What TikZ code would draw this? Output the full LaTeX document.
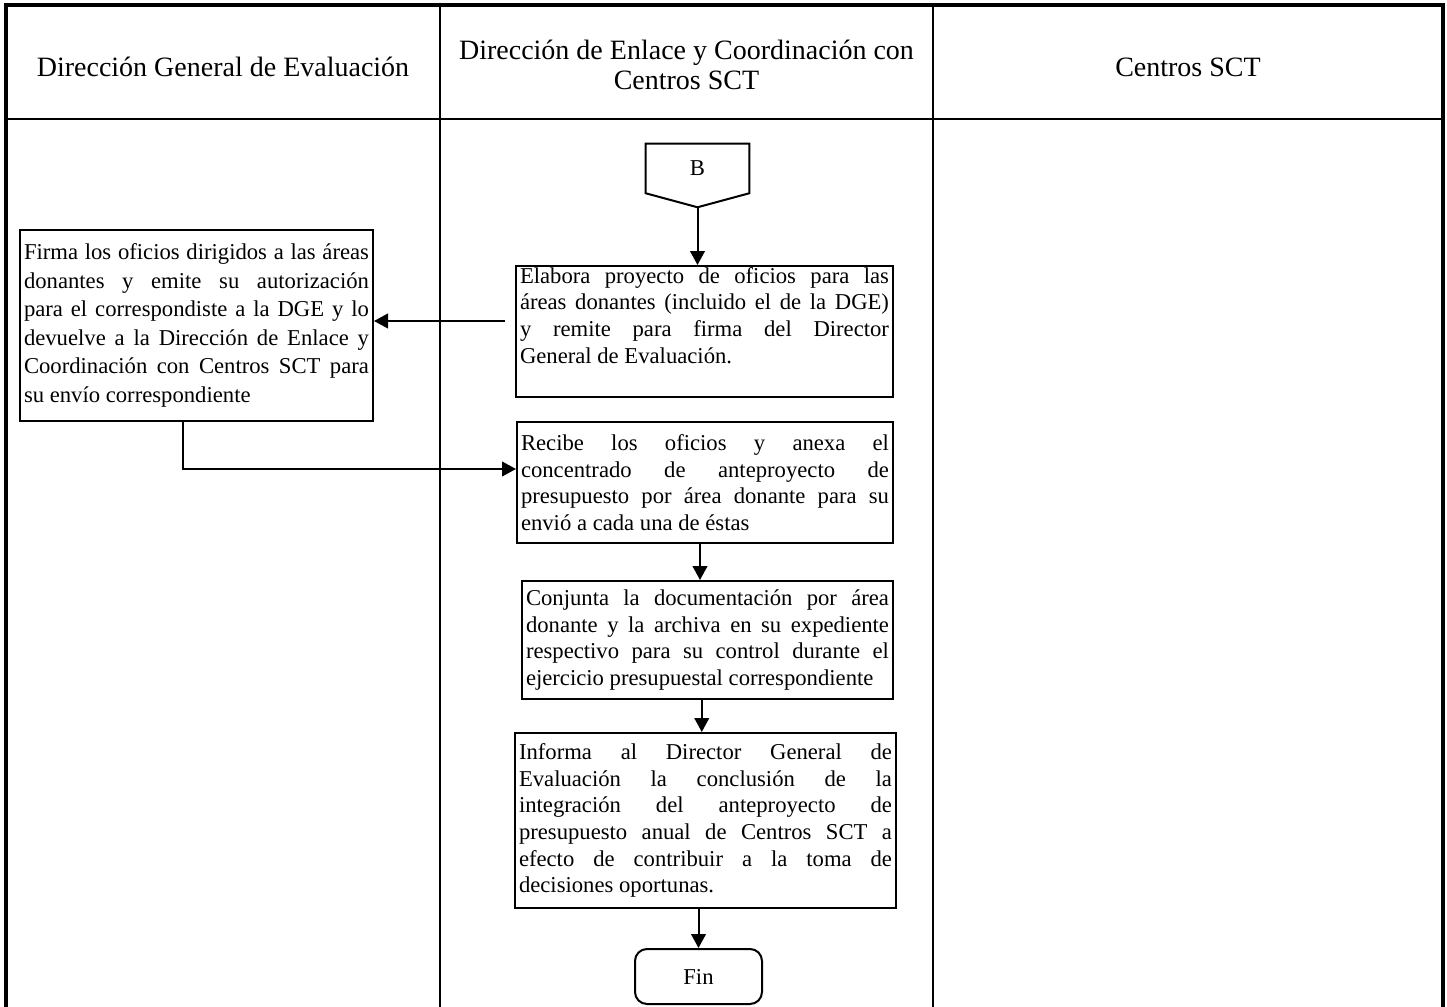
\documentclass[tikz,border=0pt]{standalone}
\usepackage{fontspec}
\setmainfont{Liberation Serif}
\usetikzlibrary{arrows.meta,calc}
\newcommand\bxt[4]{\parbox[c][#2][#1]{#3}{\fontsize{17}{20}\selectfont\hyphenpenalty=10000\exhyphenpenalty=10000\tolerance=10000\hbadness=10000 #4}}
\begin{document}
\begin{tikzpicture}[x=0.75pt,y=-0.75pt,
  >={Triangle[length=10.5pt,width=11pt]},
  arr/.style={->,line width=1.5pt},
  procbox/.style={draw,line width=1.5pt,inner xsep=3pt,inner ysep=0pt,fill=white},
  hdr/.style={font=\fontsize{21}{22.5}\selectfont,align=center},
  txt/.style={font=\fontsize{17}{20}\selectfont}]
\useasboundingbox (0,0) rectangle (1447,1007);
% table
\draw[line width=2.4pt] (6,1007) -- (6,5) -- (1443,5) -- (1443,1007);
\draw[line width=2.2pt] (6,119) -- (1443,119);
\draw[line width=1.5pt] (440,5) -- (440,1007);
\draw[line width=1.5pt] (933,5) -- (933,1007);
% headers
\node[hdr] (h1) at (223,67) {Dirección General de Evaluación};
\node[hdr] (h2) at (686.5,65) {Dirección de Enlace y Coordinación con\\Centros SCT};
\node[hdr] (h3) at (1188,67) {Centros SCT};
% off-page connector
\node[txt,minimum width=77.25pt,minimum height=36.75pt,inner sep=0pt] (B) at (697.5,168.5) {B};
\draw[line width=1.5pt] (B.north west) -- (B.north east) -- (B.south east) -- ([yshift=-10.5pt]B.south) coordinate (Btip) -- (B.south west) -- cycle;
% process boxes
\node[procbox] (left) at (196.5,325.5) {\bxt{c}{143.25pt}{258.75pt}{\fontsize{17}{21.4}\selectfont Firma los oficios dirigidos a las áreas\linebreak donantes y emite su autorización\linebreak para el correspondiste a la DGE y lo\linebreak devuelve a la Dirección de Enlace y\linebreak Coordinación con Centros SCT para\linebreak su envío correspondiente}};
\node[procbox] (b1) at (704.5,331.5) {\bxt{t}{98.25pt}{276.75pt}{\vspace*{1pt}Elabora proyecto de oficios para las\linebreak áreas donantes (incluido el de la DGE)\linebreak y remite para firma del Director\linebreak General de Evaluación.}};
\node[procbox] (b2) at (705,482.5) {\bxt{c}{90.75pt}{276pt}{Recibe los oficios y anexa el\linebreak concentrado de anteproyecto de\linebreak presupuesto por área donante para su\linebreak envió a cada una de éstas}};
\node[procbox] (b3) at (707.5,640) {\bxt{c}{88.5pt}{272.25pt}{Conjunta la documentación por área\linebreak donante y la archiva en su expediente\linebreak respectivo para su control durante el\linebreak ejercicio presupuestal correspondiente}};
\node[procbox] (b4) at (705.5,820.5) {\bxt{c}{131.25pt}{279.75pt}{Informa al Director General de\linebreak Evaluación la conclusión de la\linebreak integración del anteproyecto de\linebreak presupuesto anual de Centros SCT a\linebreak efecto de contribuir a la toma de\linebreak decisiones oportunas.}};
\node[txt,draw,line width=1.5pt,rounded corners=9pt,minimum width=95.25pt,minimum height=41.25pt] (fin) at (698.5,976.5) {Fin};
% connectors
\draw[arr] (Btip) -- (Btip |- b1.north);
\coordinate (a1) at ([xshift=-7.5pt,yshift=7.875pt]b1.west);
\draw[arr] (a1) -- (a1 -| left.east);
\coordinate (s3) at ([xshift=-10.125pt]left.south);
\coordinate (e3) at ([yshift=10.125pt]b2.west);
\draw[arr] (s3) |- (e3);
\draw[arr] ([xshift=-3.75pt]b2.south) -- ([xshift=-3.75pt]b2.south |- b3.north);
\draw[arr] ([xshift=-4.3pt]b3.south) -- ([xshift=-4.3pt]b3.south |- b4.north);
\draw[arr] (fin.north |- b4.south) -- (fin.north);
\end{tikzpicture}
\end{document}
